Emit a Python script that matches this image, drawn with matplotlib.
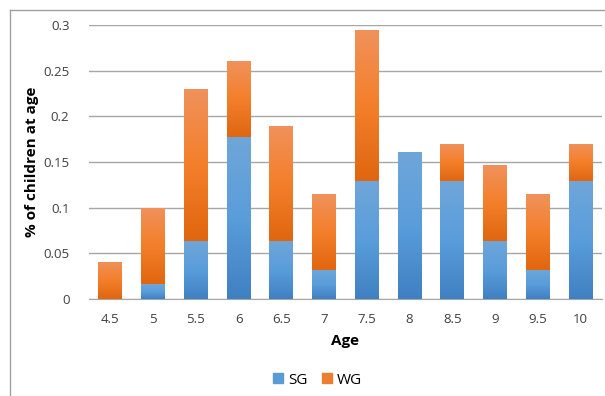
import matplotlib
matplotlib.use('Agg')
import matplotlib.pyplot as plt
import numpy as np
from matplotlib.lines import Line2D
from matplotlib.colors import LinearSegmentedColormap

plt.rcParams['font.family'] = ['Open Sans', 'DejaVu Sans']

# data
ages = ['4.5', '5', '5.5', '6', '6.5', '7', '7.5', '8', '8.5', '9', '9.5', '10']
sg = [0.0, 0.016, 0.064, 0.177, 0.064, 0.032, 0.129, 0.161, 0.129, 0.064, 0.032, 0.129]
wg = [0.041, 0.084, 0.166, 0.083, 0.125, 0.083, 0.166, 0.0, 0.041, 0.083, 0.083, 0.041]

fig = plt.figure(figsize=(6.05, 3.96), dpi=100)
ax = fig.add_axes([0.147, 0.245, 0.848, 0.692])

x = np.arange(len(ages))
w = 0.56
blue_bars = ax.bar(x, sg, w, color='#5b9bd5', zorder=2)
orange_bars = ax.bar(x, wg, w, bottom=sg, color='#ed7d31', zorder=2)

# vertical gradient like Excel's bar fill
blue_cmap = LinearSegmentedColormap.from_list('b', ['#3f80c2', '#5a9ddb', '#6fa6d9'])
orange_cmap = LinearSegmentedColormap.from_list('o', ['#e0660f', '#f47f2a', '#f0925c'])
grad = np.linspace(0, 1, 256).reshape(-1, 1)
for bars, cmap in [(blue_bars, blue_cmap), (orange_bars, orange_cmap)]:
    for b in bars:
        h = b.get_height()
        if h <= 0:
            continue
        x0 = b.get_x()
        y0 = b.get_y()
        im = ax.imshow(grad, cmap=cmap, origin='lower', aspect='auto',
                       extent=[x0, x0 + b.get_width(), y0, y0 + h], zorder=3)
        im.set_clip_path(b)

ax.set_xlim(-0.5, len(ages) - 0.5)
ax.set_ylim(0, 0.3)
ax.set_yticks([0, 0.05, 0.1, 0.15, 0.2, 0.25, 0.3])
ax.set_yticklabels(['0', '0.05', '0.1', '0.15', '0.2', '0.25', '0.3'])
ax.set_xticks(x)
ax.set_xticklabels(ages)
ax.tick_params(length=0, labelsize=9.5, colors='#404040', pad=10)
ax.tick_params(axis='y', pad=14)
ax.yaxis.grid(True, color='#a6a6a6', linewidth=1, zorder=0)
ax.set_axisbelow(True)
for s in ['top', 'right', 'left']:
    ax.spines[s].set_visible(False)
ax.spines['bottom'].set_color('#a6a6a6')

ax.set_xlabel('Age', fontsize=11, fontweight='bold', labelpad=6)
ax.set_ylabel('% of children at age', fontsize=11, fontweight='bold', labelpad=3)

handles = [plt.Rectangle((0, 0), 1, 1, color='#5b9bd5'), plt.Rectangle((0, 0), 1, 1, color='#ed7d31')]
fig.legend(handles, ['SG', 'WG'], loc='center', bbox_to_anchor=(0.525, 0.04), ncol=2,
           frameon=False, fontsize=11, handlelength=0.65, handleheight=0.65,
           handletextpad=0.35, columnspacing=0.9)

# chart border
fig.add_artist(Line2D([10 / 605, 10 / 605], [0, 1 - 10 / 396], transform=fig.transFigure, color='#a0a0a0', lw=1))
fig.add_artist(Line2D([10 / 605, 1], [1 - 10 / 396, 1 - 10 / 396], transform=fig.transFigure, color='#a0a0a0', lw=1))

fig.savefig('out.png', dpi=100)
